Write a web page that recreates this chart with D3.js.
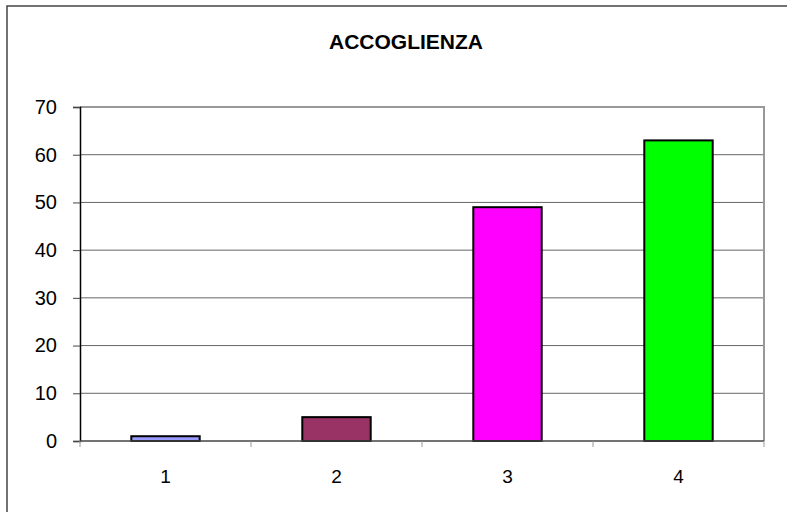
<!DOCTYPE html>
<html>
<head>
<meta charset="utf-8">
<script src="https://cdn.jsdelivr.net/npm/d3@7"></script>
<style>
  body { margin: 0; background: #fff; }
  svg { display: block; font-family: Arial, "Liberation Sans", sans-serif; }
</style>
</head>
<body>
<div id="chart"></div>
<script>
const categories = ["1", "2", "3", "4"];
const values = [1, 5, 49, 63];
const colors = ["#9999ff", "#993366", "#ff00ff", "#00ff00"];
const yTicks = [0, 10, 20, 30, 40, 50, 60, 70];
const title = "ACCOGLIENZA";

const W = 787, H = 512;
const margin = {top: 107, right: 23, bottom: 71, left: 80},
    width = W - margin.left - margin.right,
    height = H - margin.top - margin.bottom;

const svg = d3.select("#chart").append("svg")
    .attr("width", W)
    .attr("height", H);

// outer frame
svg.append("rect")
    .attr("x", 7).attr("y", 6)
    .attr("width", W).attr("height", H)
    .attr("fill", "none")
    .attr("stroke", "#444")
    .attr("stroke-width", 1.5);

svg.append("text")
    .attr("x", 406)
    .attr("y", 49)
    .attr("text-anchor", "middle")
    .style("font-size", "21px")
    .style("font-weight", "bold")
    .text(title);

const x = d3.scaleBand()
    .domain(categories)
    .range([0, width])
    .paddingInner(0.6)
    .paddingOuter(0.3);

const y = d3.scaleLinear()
    .domain([0, 70])
    .range([height, 0]);

const g = svg.append("g").attr("transform", "translate(" + margin.left + "," + margin.top + ")");

// gridlines
g.selectAll(".grid")
    .data(yTicks.filter(d => d > 0 && d < 70))
    .enter().append("line")
    .attr("x1", 0).attr("x2", width)
    .attr("y1", d => y(d)).attr("y2", d => y(d))
    .style("stroke", "#666")
    .style("stroke-width", 1);

// plot border top & right
g.append("path")
    .attr("d", "M0," + y(70) + "H" + width + "V" + height)
    .attr("fill", "none")
    .style("stroke", "#999")
    .style("stroke-width", 2);

// bars
g.selectAll(".bar")
    .data(values)
    .enter().append("rect")
    .attr("x", (d, i) => x(categories[i]))
    .attr("y", d => y(d))
    .attr("width", x.bandwidth())
    .attr("height", d => height - y(d))
    .attr("fill", (d, i) => colors[i])
    .attr("stroke", "#000")
    .attr("stroke-width", 2);

// y axis
const yAxis = g.append("g")
    .call(d3.axisLeft(y).tickValues(yTicks).tickSize(7).tickPadding(16));
yAxis.select(".domain").attr("stroke", "#000").attr("stroke-width", 1.5);
yAxis.selectAll(".tick line").attr("stroke", "#444");
yAxis.selectAll(".tick text")
    .style("font-size", "20px")
    .style("font-family", "Arial, 'Liberation Sans', sans-serif")
    .attr("fill", "#000");

// x axis: ticks between categories
const bounds = d3.range(categories.length + 1).map(i => i * width / categories.length);
const xg = g.append("g").attr("transform", "translate(0," + height + ")");
xg.append("line")
    .attr("x1", 0).attr("x2", width)
    .attr("stroke", "#444").attr("stroke-width", 1.5);
xg.selectAll(".xt")
    .data(bounds)
    .enter().append("line")
    .attr("x1", d => d).attr("x2", d => d)
    .attr("y1", 0).attr("y2", 6)
    .attr("stroke", "#999");
xg.selectAll(".xl")
    .data(categories)
    .enter().append("text")
    .attr("x", d => x(d) + x.bandwidth() / 2)
    .attr("y", 42)
    .attr("text-anchor", "middle")
    .style("font-size", "19px")
    .text(d => d);
</script>
</body>
</html>
